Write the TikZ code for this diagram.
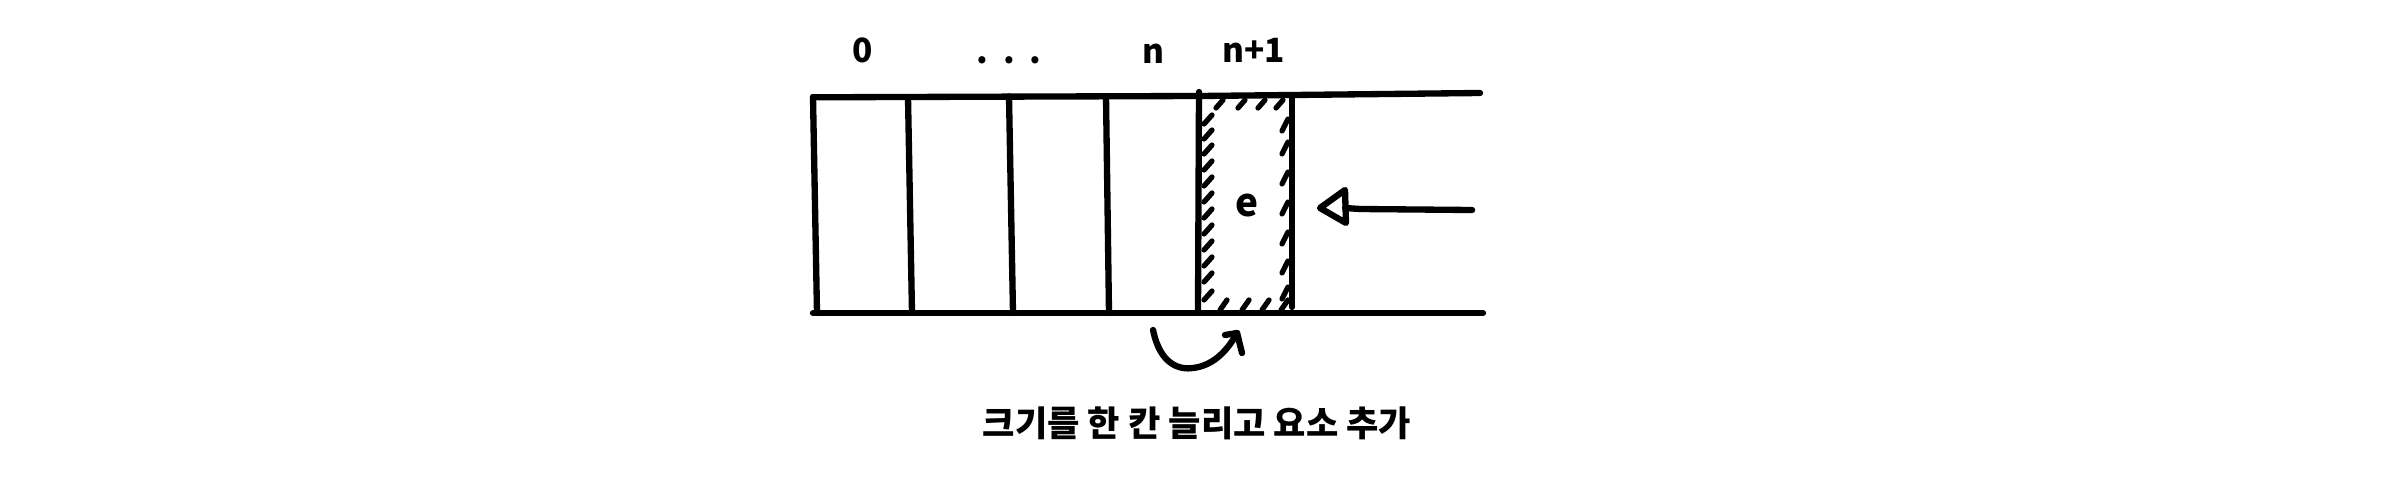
\documentclass[tikz,border=0pt]{standalone}
\usepackage{fontspec}
\setmainfont{Noto Sans CJK KR}

\begin{document}
\begin{tikzpicture}[scale=0.1, line width=1.8pt, line cap=round, line join=round]
\tikzstyle{every node}+=[inner sep=0pt]
\tikzstyle{hatch}=[line width=1.5pt]
\tikzstyle{idx}=[anchor=base, font=\fontsize{9.5}{11}\selectfont\bfseries]
\useasboundingbox (0,0) rectangle (240,-47.7);
\draw [black] (81.3,-9.73) -- (120,-9.6) -- (148,-9.3);
\draw [black] (81.3,-31.3) -- (148.3,-31.3);
\draw [black] (81.3,-9.7) -- (81.7,-31.3);
\draw [black] (90.8,-9.7) -- (91.2,-31.3);
\draw [black] (100.9,-9.65) -- (101.3,-31.3);
\draw [black] (110.6,-9.6) -- (110.9,-31.3);
\draw [black] (119.9,-9.2) -- (119.8,-31.1);
\draw [black] (129.2,-9.6) -- (129.2,-30.7);
\draw (86.3,-6.3) node (idx0) [idx] {0};
\draw (100.9,-6.4) node (idxdots) [idx] {.\hspace{0.15cm}.\hspace{0.15cm}.};
\draw (115.3,-6.33) node (idxn) [idx] {n};
\draw (125.4,-6.3) node (idxnext) [idx] {n+1};
\draw (124.7,-21.7) node (elem) [anchor=base, font=\fontsize{11}{13}\selectfont\bfseries] {e};
\draw [hatch] (120.4,-12.4) -- (121.2,-11.5);
\draw [hatch] (120.4,-13.9) -- (121.2,-13.0);
\draw [hatch] (120.4,-15.4) -- (121.2,-14.5);
\draw [hatch] (120.4,-17.0) -- (121.2,-16.1);
\draw [hatch] (120.4,-18.6) -- (121.2,-17.7);
\draw [hatch] (120.4,-20.2) -- (121.2,-19.3);
\draw [hatch] (120.4,-21.8) -- (121.2,-20.9);
\draw [hatch] (120.4,-23.4) -- (121.2,-22.5);
\draw [hatch] (120.4,-25.0) -- (121.2,-24.1);
\draw [hatch] (120.4,-26.6) -- (121.2,-25.7);
\draw [hatch] (120.4,-28.2) -- (121.2,-27.3);
\draw [hatch] (120.4,-30.0) -- (121.2,-29.1);
\draw [hatch] (128.2,-13.1) -- (128.8,-11.9);
\draw [hatch] (128.2,-15.4) -- (128.8,-14.2);
\draw [hatch] (128.2,-18.4) -- (128.8,-17.2);
\draw [hatch] (128.2,-21.4) -- (128.8,-20.2);
\draw [hatch] (128.2,-24.4) -- (128.8,-23.2);
\draw [hatch] (128.2,-27.3) -- (128.8,-26.1);
\draw [hatch] (128.2,-29.9) -- (128.8,-28.7);
\draw [hatch] (121.6,-10.8) -- (122.3,-10.0);
\draw [hatch] (123.8,-10.8) -- (124.5,-10.0);
\draw [hatch] (125.8,-10.8) -- (126.5,-10.0);
\draw [hatch] (127.6,-10.8) -- (128.3,-10.0);
\draw [hatch] (122.0,-31.0) -- (122.7,-30.0);
\draw [hatch] (124.2,-31.0) -- (124.9,-30.0);
\draw [hatch] (126.2,-31.0) -- (126.9,-30.0);
\draw [hatch] (128.1,-31.0) -- (128.8,-30.0);
\coordinate (pushfrom) at (147.2,-21.0);
\coordinate (pushto) at (134.5,-20.8);
\draw [black] (pushfrom) -- (136,-20.9) -- (pushto);
\draw [black] (132.0,-20.8) -- (134.5,-19.0) -- (134.6,-22.3) -- cycle;
\coordinate (growfrom) at (115.3,-33.0);
\coordinate (growto) at (123.7,-33.3);
\draw [black] (growfrom) .. controls (116.0,-36.5) and (118.0,-37.0) .. (119.3,-36.8) .. controls (121.0,-36.6) and (122.5,-35.5) .. (growto);
\draw [black] (122.5,-33.5) -- (growto) -- (124.2,-35.3);
\draw (119.7,-42.3) node (caption) [font=\fontsize{10}{12}\selectfont\bfseries] {크기를 한 칸 늘리고 요소 추가};
\end{tikzpicture}
\end{document}
